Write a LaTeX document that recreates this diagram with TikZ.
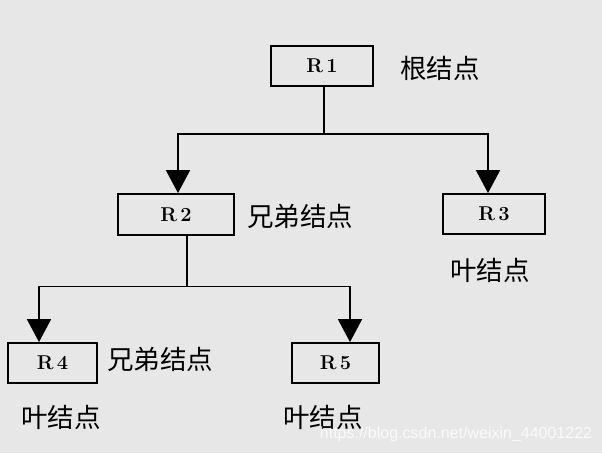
\documentclass[tikz,border=0pt]{standalone}
\usepackage{fontspec}
\newfontfamily\cjk{Noto Sans CJK SC}
\newfontfamily\wmfont{Liberation Sans}
\usetikzlibrary{arrows.meta}
\definecolor{bgcol}{RGB}{231,231,231}
\begin{document}
\begin{tikzpicture}[x=1pt,y=-1pt,
  rbox/.style={draw=black,line width=1.8pt,inner sep=0pt,font=\bfseries\fontsize{20}{22}\selectfont},
  lbl/.style={inner sep=0pt,font=\cjk\fontsize{26.5}{30}\selectfont},
  link/.style={line width=1.8pt},
  arr/.style={line width=1.8pt,-{Triangle[width=24pt,length=23pt]}}]
\fill[bgcol] (0,0) rectangle (602,453);
\useasboundingbox (0,0) rectangle (602,453);
% boxes
\node[rbox,minimum width=102pt,minimum height=40pt] (R1) at (322,66) {R\,1\hspace{6pt}};
\node[rbox,minimum width=116pt,minimum height=41pt] (R2) at (176,214.5) {R\,2\hspace{14pt}};
\node[rbox,minimum width=102pt,minimum height=40pt] (R3) at (494,214) {R\,3\hspace{3pt}};
\node[rbox,minimum width=89pt,minimum height=40pt] (R4) at (52.5,363) {R\,4\hspace{15pt}};
\node[rbox,minimum width=87pt,minimum height=40pt] (R5) at (335.5,363) {R\,5\hspace{17pt}};
% labels
\node[lbl] (L1) at (440,68) {根结点};
\node[lbl] (L2) at (300,216) {兄弟结点};
\node[lbl] (L3) at (490,270) {叶结点};
\node[lbl] (L4) at (160,359) {兄弟结点};
\node[lbl] (L5) at (61,417) {叶结点};
\node[lbl] (L6) at (323,417) {叶结点};
% connectors
\coordinate (j1) at (324,134);
\coordinate (j2) at (187,286.5);
\draw[link] ([xshift=2pt]R1.south) -- (j1);
\draw[arr] (j1) -| ([xshift=2pt]R2.north);
\draw[arr] (j1) -| ([xshift=-6pt]R3.north);
\draw[link] ([xshift=11pt]R2.south) -- (j2);
\draw[arr] (j2) -| ([xshift=-13.5pt]R4.north);
\draw[arr] (j2) -| ([xshift=14.5pt]R5.north);
% watermark
\node[inner sep=0pt,text=white,opacity=0.8,font=\wmfont\fontsize{16}{18}\selectfont] (wm) at (456,434) {https://blog.csdn.net/weixin\_44001222};
\end{tikzpicture}
\end{document}
